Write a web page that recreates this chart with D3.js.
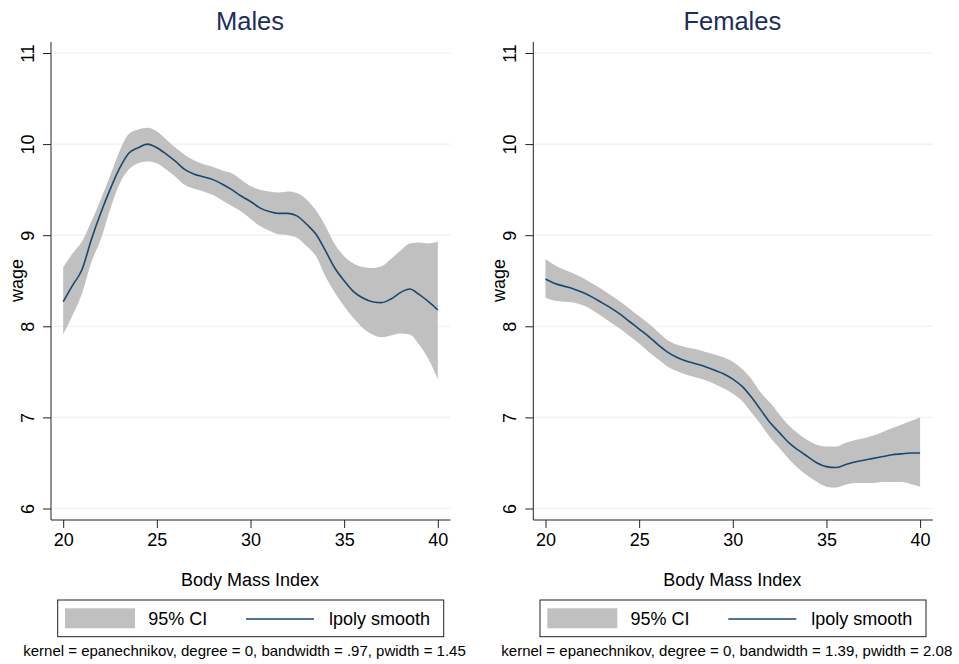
<!DOCTYPE html>
<html>
<head>
<meta charset="utf-8">
<script src="https://cdn.jsdelivr.net/npm/d3@7"></script>
<style>
  body { margin: 0; background: #fff; }
  svg { display: block; font-family: Arial, "Liberation Sans", Helvetica, sans-serif; }
</style>
</head>
<body>
<svg id="chart" width="959" height="664"></svg>
<script>
// BMI grid shared by both panels
const bmi = [20, 20.5, 21, 21.5, 22, 22.5, 23, 23.5, 24, 24.5, 25, 25.5, 26, 26.5, 27, 27.5,
  28, 28.5, 29, 29.5, 30, 30.5, 31, 31.5, 32, 32.5, 33, 33.5, 34, 34.5, 35, 35.5,
  36, 36.5, 37, 37.5, 38, 38.5, 39, 39.5, 40];

const maleSmooth = [8.27, 8.45, 8.62, 8.95, 9.24, 9.50, 9.73, 9.90, 9.96, 10.00, 9.96, 9.89,
  9.81, 9.72, 9.67, 9.64, 9.61, 9.56, 9.50, 9.43, 9.37, 9.30, 9.26, 9.24, 9.24, 9.21,
  9.12, 9.01, 8.83, 8.64, 8.50, 8.38, 8.31, 8.27, 8.26, 8.30, 8.37, 8.41, 8.35, 8.27, 8.18];
const maleUpper = [8.65, 8.80, 8.93, 9.15, 9.39, 9.65, 9.92, 10.11, 10.16, 10.18, 10.14, 10.05,
  9.96, 9.88, 9.82, 9.78, 9.75, 9.71, 9.68, 9.61, 9.54, 9.50, 9.48, 9.47, 9.48, 9.46,
  9.39, 9.27, 9.10, 8.90, 8.77, 8.69, 8.65, 8.64, 8.66, 8.74, 8.83, 8.91, 8.92, 8.91, 8.93];
const maleLower = [7.91, 8.12, 8.36, 8.70, 8.95, 9.28, 9.56, 9.72, 9.79, 9.81, 9.79, 9.72,
  9.64, 9.55, 9.51, 9.48, 9.44, 9.38, 9.32, 9.26, 9.18, 9.10, 9.05, 9.01, 9.00, 8.97,
  8.88, 8.77, 8.55, 8.37, 8.22, 8.09, 7.98, 7.91, 7.88, 7.90, 7.92, 7.91, 7.80, 7.64, 7.42];

const femaleSmooth = [8.52, 8.47, 8.44, 8.41, 8.37, 8.32, 8.26, 8.20, 8.13, 8.05, 7.97, 7.89,
  7.80, 7.72, 7.66, 7.62, 7.59, 7.56, 7.52, 7.48, 7.42, 7.34, 7.22, 7.08, 6.94, 6.83,
  6.72, 6.64, 6.57, 6.50, 6.46, 6.45, 6.48, 6.51, 6.53, 6.55, 6.57, 6.59, 6.60, 6.61, 6.61];
const femaleUpper = [8.74, 8.67, 8.62, 8.58, 8.53, 8.47, 8.41, 8.34, 8.27, 8.19, 8.11, 8.03,
  7.94, 7.85, 7.80, 7.77, 7.75, 7.72, 7.69, 7.66, 7.61, 7.53, 7.42, 7.27, 7.16, 7.03,
  6.91, 6.82, 6.75, 6.70, 6.68, 6.68, 6.72, 6.75, 6.77, 6.80, 6.84, 6.88, 6.92, 6.96, 7.00];
const femaleLower = [8.31, 8.28, 8.27, 8.26, 8.23, 8.18, 8.11, 8.04, 7.97, 7.89, 7.81, 7.72,
  7.64, 7.56, 7.51, 7.47, 7.44, 7.41, 7.37, 7.32, 7.26, 7.18, 7.05, 6.92, 6.78, 6.66,
  6.54, 6.44, 6.36, 6.29, 6.24, 6.23, 6.26, 6.28, 6.28, 6.28, 6.29, 6.29, 6.29, 6.27, 6.24];

const xTicks = [20, 25, 30, 35, 40];
const yTicks = [6, 7, 8, 9, 10, 11];
const titles = ['Males', 'Females'];
const notes = [
  'kernel = epanechnikov, degree = 0, bandwidth = .97, pwidth = 1.45',
  'kernel = epanechnikov, degree = 0, bandwidth = 1.39, pwidth = 2.08'
];

const ciColor = '#c0c0c0';
const lineColor = '#1a476f';
const titleColor = '#1e2d5c';
const gridColor = '#eaf2f3';

const svg = d3.select('#chart');

function drawPanel(ox, title, smooth, upper, lower, note) {
  const g = svg.append('g').attr('transform', `translate(${ox},0)`);
  const axisX = 51, right = 450.5, top = 42, bottom = 520;

  const x = d3.scaleLinear().domain([20, 40]).range([63.2, 437.8]);
  const y = d3.scaleLinear().domain([6, 11]).range([508.5, 53]);

  // grid
  g.selectAll('.grid').data(yTicks).enter().append('line')
    .attr('x1', axisX + 1).attr('x2', right)
    .attr('y1', d => y(d)).attr('y2', d => y(d))
    .attr('stroke', gridColor).attr('stroke-width', 1.2);

  const rows = bmi.map((b, i) => ({ b, s: smooth[i], u: upper[i], l: lower[i] }));

  g.append('path').datum(rows)
    .attr('d', d3.area().x(d => x(d.b)).y0(d => y(d.l)).y1(d => y(d.u)).curve(d3.curveMonotoneX))
    .attr('fill', ciColor);

  g.append('path').datum(rows)
    .attr('d', d3.line().x(d => x(d.b)).y(d => y(d.s)).curve(d3.curveMonotoneX))
    .attr('fill', 'none').attr('stroke', lineColor).attr('stroke-width', 1.6);

  // y axis
  const yAxis = g.append('g').attr('transform', `translate(${axisX},0)`)
    .call(d3.axisLeft(y).tickValues(yTicks).tickFormat(d3.format('d'))
      .tickSize(8).tickSizeOuter(0));
  yAxis.select('.domain').attr('d', `M0,${top}V${bottom}`).attr('stroke', '#222');
  yAxis.selectAll('.tick line').attr('stroke', '#222');
  yAxis.selectAll('.tick text')
    .attr('x', null).attr('dy', null)
    .attr('transform', 'translate(-23.5,0) rotate(-90)')
    .attr('text-anchor', 'middle').attr('dominant-baseline', 'central')
    .attr('font-size', 18).attr('fill', '#000');

  // x axis
  const xAxis = g.append('g').attr('transform', `translate(0,${bottom})`)
    .call(d3.axisBottom(x).tickValues(xTicks).tickFormat(d3.format('d'))
      .tickSize(8).tickSizeOuter(0));
  xAxis.select('.domain').attr('d', `M${axisX},0H${right}`).attr('stroke', '#222');
  xAxis.selectAll('.tick line').attr('stroke', '#222');
  xAxis.selectAll('.tick text').attr('y', 25.7).attr('dy', null)
    .attr('font-size', 18).attr('fill', '#000');

  // titles
  g.append('text').attr('x', 250).attr('y', 30).attr('text-anchor', 'middle')
    .attr('font-size', 25.5).attr('fill', titleColor).text(title);
  g.append('text').attr('transform', 'translate(23,280.5) rotate(-90)')
    .attr('text-anchor', 'middle').attr('font-size', 18).text('wage');
  g.append('text').attr('x', 250).attr('y', 585.7).attr('text-anchor', 'middle')
    .attr('font-size', 18).text('Body Mass Index');

  // legend
  const lg = g.append('g');
  lg.append('rect').attr('x', 57.7).attr('y', 600).attr('width', 386).attr('height', 36.7)
    .attr('fill', '#fff').attr('stroke', '#222').attr('stroke-width', 1);
  lg.append('rect').attr('x', 65).attr('y', 608.3).attr('width', 70).attr('height', 20)
    .attr('fill', ciColor);
  lg.append('text').attr('x', 148.3).attr('y', 625).attr('font-size', 18).text('95% CI');
  lg.append('line').attr('x1', 246).attr('x2', 314).attr('y1', 619).attr('y2', 619)
    .attr('stroke', lineColor).attr('stroke-width', 1.6);
  lg.append('text').attr('x', 329).attr('y', 625).attr('font-size', 18).text('lpoly smooth');

  g.append('text').attr('x', 244.5).attr('y', 655.5).attr('text-anchor', 'middle')
    .attr('font-size', 15).text(note);
}

drawPanel(0, titles[0], maleSmooth, maleUpper, maleLower, notes[0]);
drawPanel(482.3, titles[1], femaleSmooth, femaleUpper, femaleLower, notes[1]);
</script>
</body>
</html>
